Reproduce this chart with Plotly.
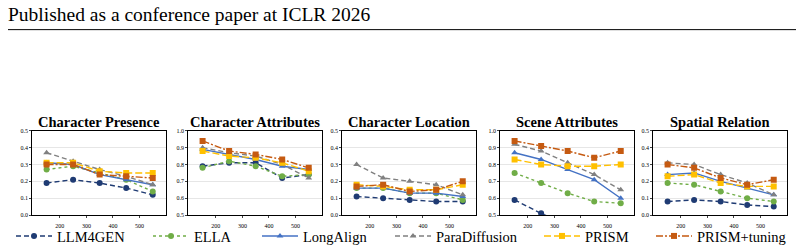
import plotly.graph_objects as go

x_vals = [150, 250, 350, 450, 550]
x_ticks = [200, 300, 400, 500]

panels = ["Character Presence", "Character Attributes", "Character Location",
          "Scene Attributes", "Spatial Relation"]
y_ranges = [[0, 0.5], [0.5, 1.0], [0, 0.5], [0.5, 1.0], [0, 0.5]]

methods = ["LLM4GEN", "ELLA", "LongAlign", "ParaDiffusion", "PRISM", "PRISM+tuning"]

llm4gen = [
    [0.19, 0.21, 0.19, 0.16, 0.12],
    [0.79, 0.81, 0.81, 0.72, 0.74],
    [0.11, 0.10, 0.09, 0.08, 0.08],
    [0.59, 0.51, 0.44, 0.40, 0.38],
    [0.08, 0.09, 0.08, 0.06, 0.05],
]
ella = [
    [0.27, 0.29, 0.25, 0.21, 0.14],
    [0.78, 0.82, 0.79, 0.73, 0.74],
    [0.16, 0.16, 0.13, 0.13, 0.09],
    [0.75, 0.69, 0.63, 0.58, 0.57],
    [0.19, 0.18, 0.14, 0.10, 0.08],
]
longalign = [
    [0.31, 0.30, 0.24, 0.21, 0.18],
    [0.89, 0.86, 0.83, 0.79, 0.77],
    [0.16, 0.16, 0.13, 0.13, 0.11],
    [0.87, 0.83, 0.77, 0.71, 0.60],
    [0.24, 0.25, 0.20, 0.16, 0.12],
]
paradiffusion = [
    [0.37, 0.32, 0.27, 0.23, 0.18],
    [0.90, 0.87, 0.85, 0.80, 0.72],
    [0.30, 0.22, 0.20, 0.18, 0.12],
    [0.92, 0.88, 0.81, 0.74, 0.65],
    [0.31, 0.30, 0.24, 0.19, 0.12],
]
prism = [
    [0.31, 0.31, 0.26, 0.25, 0.25],
    [0.88, 0.85, 0.84, 0.81, 0.76],
    [0.18, 0.17, 0.15, 0.15, 0.18],
    [0.83, 0.80, 0.79, 0.79, 0.80],
    [0.23, 0.24, 0.19, 0.17, 0.17],
]
prism_tuning = [
    [0.30, 0.30, 0.24, 0.23, 0.22],
    [0.94, 0.88, 0.86, 0.83, 0.78],
    [0.17, 0.18, 0.14, 0.15, 0.20],
    [0.94, 0.91, 0.88, 0.84, 0.88],
    [0.30, 0.28, 0.22, 0.18, 0.21],
]

series = [llm4gen, ella, longalign, paradiffusion, prism, prism_tuning]
colors = ["#1f3b73", "#70ad47", "#4472c4", "#808080", "#ffc000", "#c55a11"]
dashes = ["5px,3px", "dot", "solid", "5px,3px", "7px,3px", "7px,2px,2px,2px"]
symbols = ["circle", "circle", "triangle-up", "triangle-up", "square", "square"]

SERIF = "Liberation Serif"

W, H = 804, 252
lefts = [32, 188, 342, 500, 653]
pw = 134
top_px, bot_px = 132, 219
legend_starts = [17, 154, 263, 396, 545, 657]

fig = go.Figure()
layout = dict(
    width=W, height=H, margin=dict(l=0, r=0, t=0, b=0),
    paper_bgcolor="white", plot_bgcolor="white",
    font=dict(family=SERIF, color="black"),
    showlegend=True,
)

for i, name in enumerate(panels):
    xa = "xaxis" if i == 0 else f"xaxis{i+1}"
    ya = "yaxis" if i == 0 else f"yaxis{i+1}"
    xr = "x" if i == 0 else f"x{i+1}"
    yr = "y" if i == 0 else f"y{i+1}"
    layout[xa] = dict(
        domain=[lefts[i] / W, (lefts[i] + pw) / W], range=[95, 600],
        tickvals=x_ticks, ticks="outside", ticklen=2.5, tickwidth=0.6,
        ticklabelstandoff=2,
        tickfont=dict(size=6, family=SERIF), showgrid=False, zeroline=False,
        showline=True, linecolor="black", linewidth=0.8, mirror=True,
        anchor=yr,
    )
    layout[ya] = dict(
        domain=[(H - bot_px) / H, (H - top_px) / H], range=y_ranges[i],
        dtick=0.1, tickformat=".1f", ticks="outside", ticklen=2, tickwidth=0.6,
        tickfont=dict(size=6, family=SERIF), showgrid=True, gridcolor="#e6e6e6",
        gridwidth=0.6, zeroline=False, showline=True, linecolor="black",
        linewidth=0.8, mirror=True, anchor=xr,
    )
    for k, m in enumerate(methods):
        fig.add_trace(go.Scatter(
            x=x_vals, y=series[k][i], mode="lines+markers", name=m,
            legendgroup=m, showlegend=(i == 0), xaxis=xr, yaxis=yr,
            legend="legend" if k == 0 else f"legend{k+1}",
            line=dict(color=colors[k], width=1.4, dash=dashes[k]),
            marker=dict(symbol=symbols[k], size=6, color=colors[k]),
            cliponaxis=True,
        ))
    fig.add_annotation(
        text=f"<b>{name}</b>", x=(lefts[i] + pw / 2) / W, y=(H - 123) / H,
        xref="paper", yref="paper", showarrow=False,
        font=dict(size=14.5, family=SERIF), xanchor="center", yanchor="middle",
    )

fig.add_annotation(
    text="Published as a conference paper at ICLR 2026", x=6 / W, y=(H - 12) / H,
    xref="paper", yref="paper", showarrow=False, xanchor="left", yanchor="middle",
    font=dict(size=19.5, family=SERIF),
)
fig.add_shape(type="line", xref="paper", yref="paper", x0=8 / W, x1=796 / W,
              y0=(H - 27.5) / H, y1=(H - 27.5) / H, line=dict(color="black", width=1))

for k in range(len(methods)):
    key = "legend" if k == 0 else f"legend{k+1}"
    layout[key] = dict(
        orientation="h", x=(legend_starts[k] - 6) / W, xanchor="left",
        y=(H - 241) / H, yanchor="middle",
        font=dict(size=14.5, family=SERIF), bgcolor="rgba(0,0,0,0)",
        itemwidth=36, tracegroupgap=0, borderwidth=0,
    )
fig.update_layout(**layout)
fig.write_html("out.html")
